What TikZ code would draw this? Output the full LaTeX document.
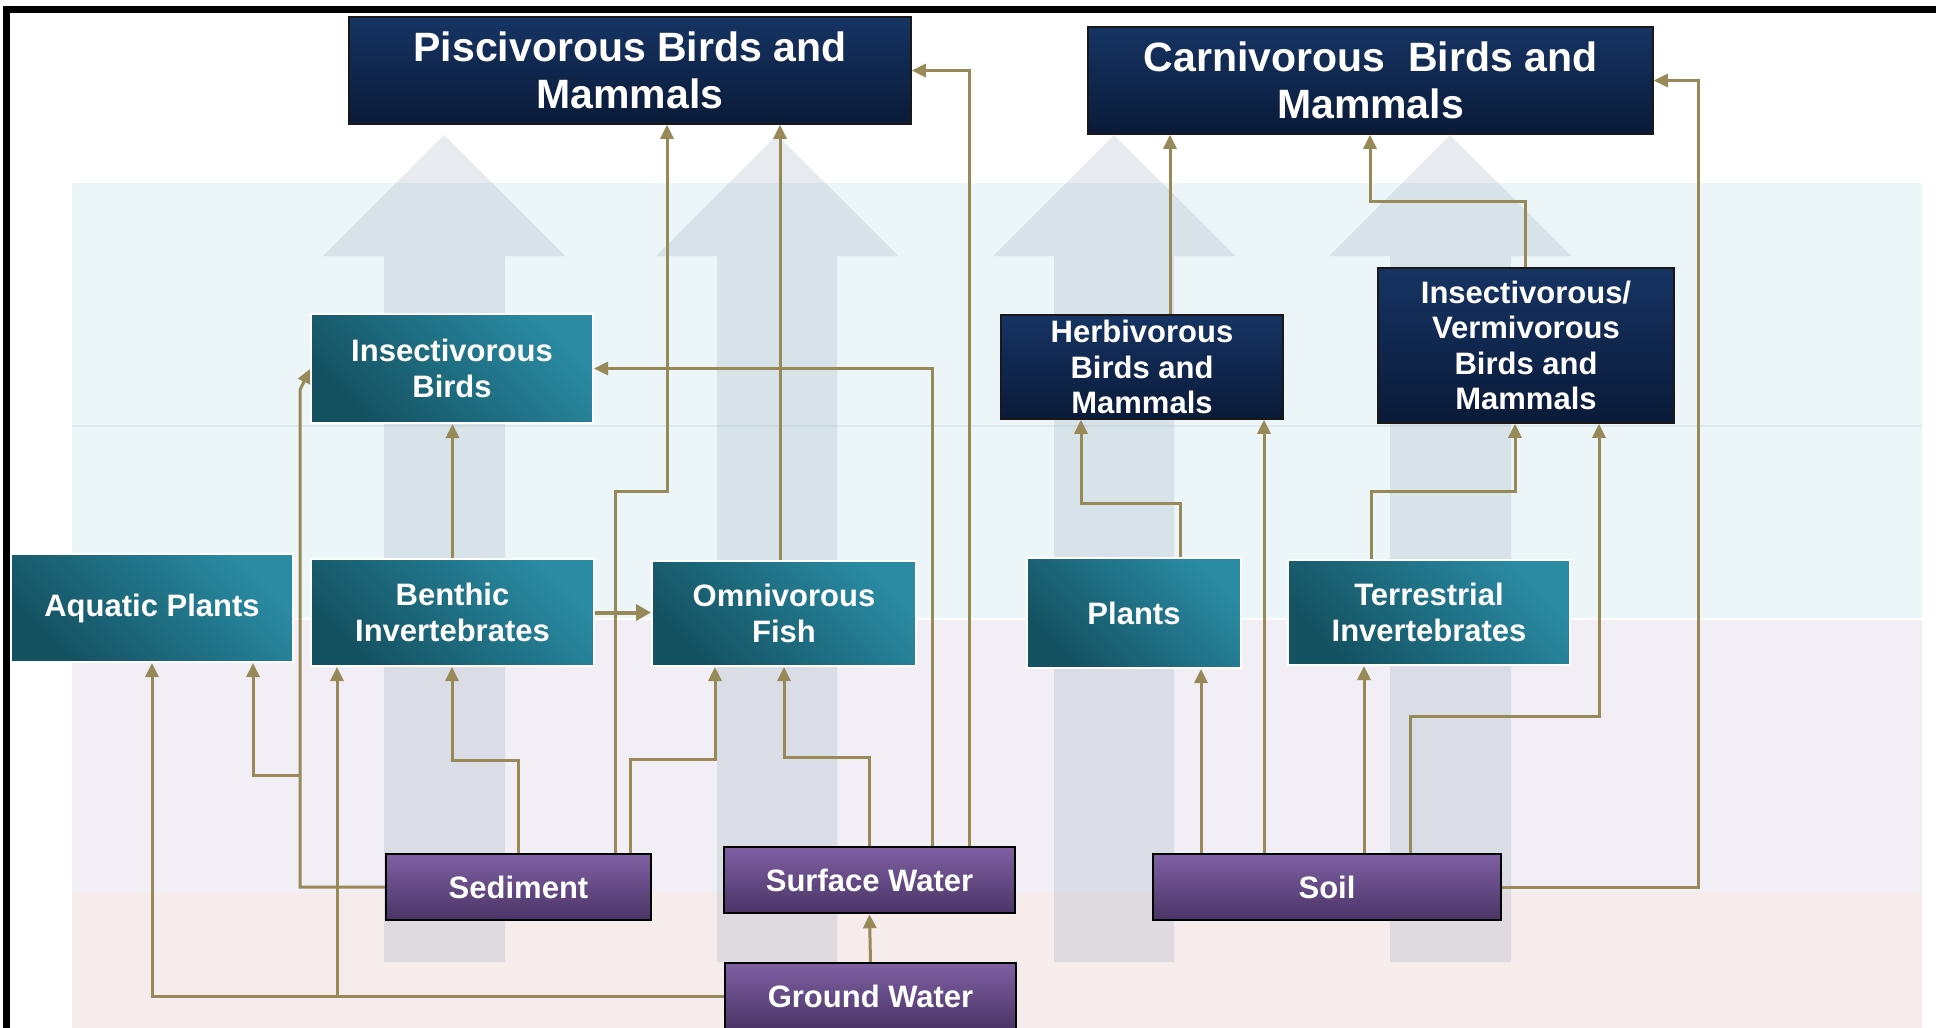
\documentclass[tikz,border=0pt]{standalone}
\usepackage{fontspec}
\setmainfont{Liberation Sans}
\usetikzlibrary{arrows.meta}

\definecolor{navytop}{HTML}{163463}
\definecolor{navybot}{HTML}{0A1A38}
\definecolor{tealtop}{HTML}{2A8BA3}
\definecolor{tealbot}{HTML}{145161}
\definecolor{purptop}{HTML}{7F60A3}
\definecolor{purpbot}{HTML}{4A3466}
\definecolor{flowcol}{HTML}{978A58}
\definecolor{bandblue}{HTML}{ECF5F8}
\definecolor{bandline}{HTML}{DCEAF0}
\definecolor{bandlav}{HTML}{F1EFF5}
\definecolor{bandpink}{HTML}{F6ECEC}
\definecolor{arrowgray}{HTML}{7A8CA5}

\newcommand{\topfont}{\fontsize{41}{47}\selectfont\bfseries}
\newcommand{\boxfont}{\fontsize{31}{35.5}\selectfont\bfseries}

\tikzset{
  consumer/.style={draw=black!90, line width=1.5, top color=navytop, bottom color=navybot,
    text=white, align=center, inner sep=0},
  biota/.style={draw=white, line width=2, top color=tealtop, bottom color=tealbot,
    shading angle=-45, text=white, align=center, inner sep=0, font=\boxfont},
  medium/.style={draw=black, line width=2.5, top color=purptop, bottom color=purpbot,
    text=white, align=center, inner sep=0, font=\boxfont},
  flow/.style={draw=flowcol, line width=3, -{Triangle[length=14pt,width=13pt]}},
  bigflow/.style={draw=flowcol, line width=4, -{Triangle[length=15pt,width=16pt]}},
  uparrow/.style={fill=arrowgray, fill opacity=0.18}
}

\begin{document}
\begin{tikzpicture}[x=1pt,y=-1pt]
    \useasboundingbox (0,0) rectangle (1936,1028);

    % Bands
    \fill[bandblue] (72,183) rectangle (1922,619);
    \fill[bandlav] (72,619) rectangle (1922,892);
    \fill[bandpink] (72,892) rectangle (1922,1028);
    \draw[bandline, line width=2] (72,426) -- (1922,426);
    \draw[white, line width=2] (72,619) -- (1922,619);

    % Big background arrows
    \fill[uparrow] (384,962) -- (384,256) -- (323,256) -- (444,135) -- (565,256) -- (505,256) -- (505,962) -- cycle;
    \fill[uparrow] (717,962) -- (717,256) -- (656,256) -- (777,135) -- (898,256) -- (837,256) -- (837,962) -- cycle;
    \fill[uparrow] (1054,962) -- (1054,256) -- (993,256) -- (1114,135) -- (1235,256) -- (1174,256) -- (1174,962) -- cycle;
    \fill[uparrow] (1390,962) -- (1390,256) -- (1329,256) -- (1450,135) -- (1571,256) -- (1511,256) -- (1511,962) -- cycle;

    % Frame
    \draw[line width=7] (6.5,1028) -- (6.5,9) -- (1936,9);

    % Top predators
    \node[consumer, font=\topfont, minimum width=562, minimum height=107] (pisc) at (630,70.5) {Piscivorous Birds and\\Mammals};
    \node[consumer, font=\topfont, minimum width=565, minimum height=107] (carn) at (1370.5,80.5) {Carnivorous~~Birds and\\Mammals};

    % Middle consumers
    \node[biota, minimum width=282, minimum height=109] (ib) at (452,368.5) {Insectivorous\\Birds};
    \node[consumer, font=\boxfont, minimum width=282, minimum height=104] (herb) at (1142,367) {Herbivorous\\Birds and\\Mammals};
    \node[consumer, font=\boxfont, minimum width=296, minimum height=155] (iv) at (1526,345.5) {Insectivorous/\\Vermivorous\\Birds and\\Mammals};

    % Lower organisms
    \node[biota, minimum width=282, minimum height=108] (aqp) at (152,608) {Aquatic Plants};
    \node[biota, minimum width=283, minimum height=107] (ben) at (452.5,612.5) {Benthic\\Invertebrates};
    \node[biota, minimum width=264, minimum height=105] (omf) at (784,613.5) {Omnivorous\\Fish};
    \node[biota, minimum width=214, minimum height=110] (pla) at (1134,613) {Plants};
    \node[biota, minimum width=282, minimum height=105] (tinv) at (1429,612.5) {Terrestrial\\Invertebrates};

    % Media
    \node[medium, minimum width=265, minimum height=66] (sed) at (518.5,887) {Sediment};
    \node[medium, minimum width=291, minimum height=66] (sw) at (869.5,880) {Surface Water};
    \node[medium, minimum width=291, minimum height=66] (gw) at (870.5,996) {Ground Water};
    \node[medium, minimum width=348, minimum height=66] (soil) at (1327,887) {Soil};

    % Aquatic side
    \draw[flow] (sw.north -| 969,0) |- (pisc.east);
    \draw[flow] (sw.north -| 932,0) |- (ib.east);
    \draw[flow] (sed.north -| 615,0) |- (667,491) -- (pisc.south -| 667,0);
    \draw[flow] (omf.north -| 780,0) -- (pisc.south -| 780,0);
    \draw[flow] (ben.north) -- (ib.south -| ben.north);
    \draw[flow] (sed.west) -| (300,390) -- (ib.west |- 0,369);
    \draw[flow] (300,775) -| (aqp.south -| 253,0);
    \draw[flow] (gw.west) -| (aqp.south);
    \draw[flow] (337,996) -- (ben.south -| 337,0);
    \draw[flow] (sed.north) |- (452,760) -- (ben.south -| 452,0);
    \draw[flow] (sed.north -| 630,0) |- (715,759) -- (omf.south -| 715,0);
    \draw[flow] (sw.north) |- (784,757) -- (omf.south);
    \draw[flow] (gw.north) -- (sw.south);
    \draw[bigflow] (ben.east) -- (omf.west |- ben.east);

    % Terrestrial side
    \draw[flow] (soil.north -| 1201,0) -- (pla.south -| 1201,0);
    \draw[flow] (soil.north -| 1264,0) -- (herb.south -| 1264,0);
    \draw[flow] (pla.north -| 1180,0) |- (1081,503) -- (herb.south -| 1081,0);
    \draw[flow] (soil.north -| 1364,0) -- (tinv.south -| 1364,0);
    \draw[flow] (soil.north -| 1410,0) |- (1599,716) -- (iv.south -| 1599,0);
    \draw[flow] (tinv.north -| 1371,0) |- (1515,491) -- (iv.south -| 1515,0);
    \draw[flow] (soil.east) -| (1698,80.5) -- (carn.east);
    \draw[flow] (herb.north -| 1170,0) -- (carn.south -| 1170,0);
    \draw[flow] (iv.north -| 1525,0) |- (1370,201) -- (carn.south -| 1370,0);
\end{tikzpicture}
\end{document}
